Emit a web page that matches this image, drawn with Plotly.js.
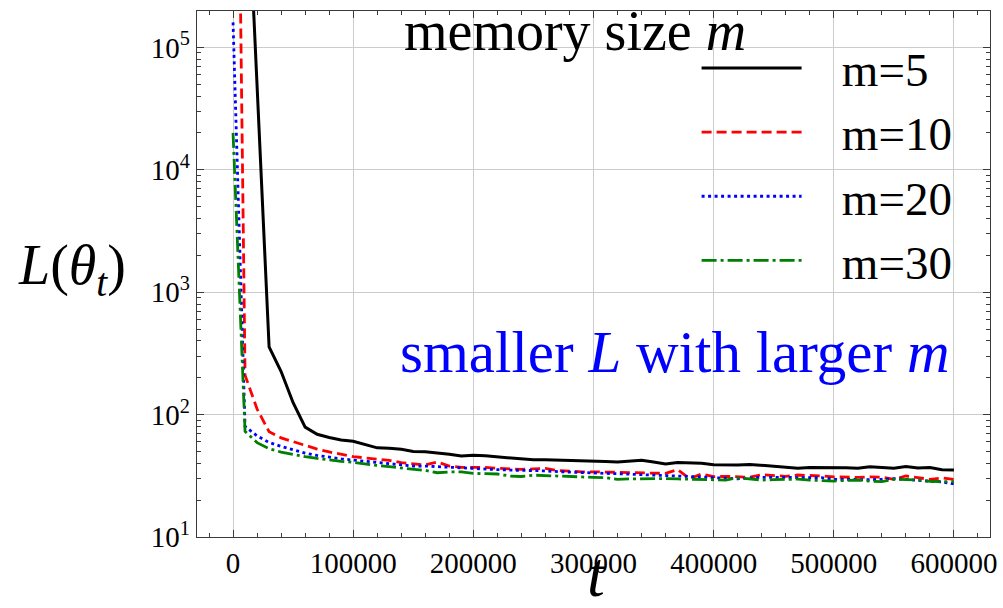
<!DOCTYPE html>
<html>
<head>
<meta charset="utf-8">
<script src="https://cdn.plot.ly/plotly-3.0.1.min.js"></script>
<style>
  html, body { margin: 0; padding: 0; background: #ffffff; }
  #chart { width: 1003px; height: 608px; }
</style>
</head>
<body>
<div id="chart"></div>
<script>
// iteration t
const t = [0, 10000, 20000, 30000, 40000, 50000, 60000, 70000, 80000, 90000,
  100000, 110000, 120000, 130000, 140000, 150000, 160000, 170000, 180000, 190000,
  200000, 210000, 220000, 230000, 240000, 250000, 260000, 270000, 280000, 290000,
  300000, 310000, 320000, 330000, 340000, 350000, 360000, 370000, 380000, 390000,
  400000, 410000, 420000, 430000, 440000, 450000, 460000, 470000, 480000, 490000,
  500000, 510000, 520000, 530000, 540000, 550000, 560000, 570000, 580000, 590000,
  600000];

// loss L(theta_t), memory size m = 5
const lossM5 = [1e12, 6.6e6, 48400, 357, 225, 125, 79, 69, 65, 62,
  60.5, 57, 53.5, 53, 52, 50, 49.7, 48.5, 47.5, 45.8,
  46.5, 46, 45, 44.2, 43.5, 42.7, 42.8, 42.6, 42.2, 42,
  41.8, 41.3, 41, 41.5, 42.3, 41, 39.5, 40.6, 40.5, 40,
  39, 38.7, 38.7, 39.2, 38.5, 38, 37.5, 36.5, 37, 37.1,
  36.9, 36.8, 36.5, 37.5, 37, 36.4, 37.6, 36.6, 37, 35.4,
  35.2];

// m = 10
const lossM10 = [2e10, 210, 111, 72.5, 64.5, 60, 56, 52.3, 49.5, 47.5,
  45.4, 44.3, 43.3, 42.3, 40.5, 39.5, 38.8, 41, 38, 37.1,
  37.1, 37, 36.5, 36, 35.7, 36, 36.3, 34.9, 34.4, 34.1,
  34.1, 33.9, 33.6, 33.3, 33.1, 33.1, 33.1, 35.5, 30, 32.7,
  31.1, 31.3, 31, 30.8, 32.3, 32, 31.3, 32.1, 32, 31.5,
  31, 30.7, 30.7, 31, 30.8, 29.6, 31.5, 30.5, 29.6, 30.4,
  29.6];

// m = 20
const lossM20 = [1.6e5, 80, 67, 59.2, 55, 51.5, 48.5, 46.4, 44.8, 43.5,
  42.5, 41.6, 40.5, 39.7, 38.5, 38, 38, 37.5, 36.9, 36.5,
  36, 35.7, 35.5, 35.2, 35.1, 34.9, 34.7, 34.2, 33.8, 33.5,
  33.2, 33.1, 32.9, 32.7, 32.4, 32.2, 32, 31.5, 31.2, 31,
  30.6, 30.2, 29.9, 30.4, 30.7, 30.7, 30.7, 30.7, 30.7, 30.5,
  29.6, 29.4, 29.2, 29.4, 29.6, 30, 29.5, 29.2, 28.6, 28.2,
  27.1];

// m = 30
const lossM30 = [2e4, 73, 59, 52.7, 49.4, 47.1, 45.3, 43.8, 42.5, 41.5,
  40.7, 39.4, 38.4, 37.5, 36.5, 35.8, 35, 33.5, 34, 34,
  33.1, 32.9, 32.7, 31.5, 31.2, 32, 31.7, 31.2, 30.9, 30.7,
  30.7, 30.5, 29.6, 29.8, 29.9, 30.1, 30, 29.8, 29.7, 29.6,
  29.3, 29.2, 30.4, 29.8, 29.2, 29.4, 29.6, 29.7, 29.2, 28.7,
  28.6, 29, 29.2, 28.6, 28.3, 29.6, 29.5, 29.2, 28.5, 28.3,
  28.3];

const seriesNames = ['m=5', 'm=10', 'm=20', 'm=30'];
const xTickVals = [0, 100000, 200000, 300000, 400000, 500000, 600000];
const xTickText = ['0', '100000', '200000', '300000', '400000', '500000', '600000'];
const yTickVals = [10, 100, 1000, 10000, 100000];
const yTickText = ['10<sup>1</sup>', '10<sup>2</sup>', '10<sup>3</sup>', '10<sup>4</sup>', '10<sup>5</sup>'];
const titleText = 'memory size <i>m</i>';
const noteText = 'smaller <i>L</i> with larger <i>m</i>';
const xTitle = '<i>t</i>';
const yTitle = '<i>L</i>(<i>θ</i><sub><i>t</i></sub>)';

const FONT = 'Liberation Serif, Times New Roman, serif';
const PAD = '\u00a0\u00a0\u00a0';

const styles = [
  {color: '#000000', width: 3, dash: 'solid'},
  {color: '#ff0000', width: 2.8, dash: '10px,5px'},
  {color: '#0000ff', width: 2.8, dash: '3px,3.5px'},
  {color: '#008000', width: 2.8, dash: '15px,4px,3px,4px'}
];
const losses = [lossM5, lossM10, lossM20, lossM30];

const traces = losses.map((y, i) => ({
  type: 'scatter',
  mode: 'lines',
  x: t,
  y: y,
  name: PAD + seriesNames[i],
  legendgroup: 'g' + i,
  line: styles[i],
  hoverinfo: 'x+y+name'
}));

const layout = {
  width: 1003,
  height: 608,
  margin: {l: 197, r: 13, t: 11, b: 71, pad: 0},
  paper_bgcolor: '#ffffff',
  plot_bgcolor: '#ffffff',
  font: {family: FONT, color: '#000000', size: 28},
  showlegend: true,
  legend: {
    x: 0.63, y: 0.962, xanchor: 'left', yanchor: 'top',
    bgcolor: 'rgba(0,0,0,0)',
    font: {family: FONT, size: 47, color: '#000000'},
    itemwidth: 100,
    tracegroupgap: 7,
    traceorder: 'normal'
  },
  xaxis: {
    range: [-30000, 630000],
    tickvals: xTickVals,
    ticktext: xTickText,
    tickfont: {family: FONT, size: 29, color: '#000000'},
    showgrid: true, gridcolor: '#cccccc', gridwidth: 1,
    zeroline: false,
    showline: true, linecolor: '#3a3a3a', linewidth: 1.3, mirror: 'ticks',
    ticks: 'inside', ticklen: 7, tickwidth: 1, tickcolor: '#3a3a3a',
    minor: {ticks: 'inside', dtick: 20000, tick0: 0, ticklen: 4, tickwidth: 1, tickcolor: '#3a3a3a', showgrid: false},
    automargin: false
  },
  yaxis: {
    type: 'log',
    range: [1, 5.297],
    tickvals: yTickVals,
    ticktext: yTickText,
    tickfont: {family: FONT, size: 29, color: '#000000'},
    showgrid: true, gridcolor: '#cccccc', gridwidth: 1,
    zeroline: false,
    showline: true, linecolor: '#3a3a3a', linewidth: 1.3, mirror: 'ticks',
    ticks: 'inside', ticklen: 7, tickwidth: 1, tickcolor: '#3a3a3a',
    minor: {ticks: 'inside', dtick: 'D1', ticklen: 4, tickwidth: 1, tickcolor: '#3a3a3a', showgrid: false},
    automargin: false
  },
  shapes: [
    {
      type: 'rect', xref: 'paper', yref: 'paper',
      x0: 0.252, x1: 0.701, y0: 0.907, y1: 0.998,
      fillcolor: '#ffffff', line: {width: 0}, layer: 'between'
    }
  ],
  annotations: [
    {
      text: titleText, xref: 'paper', yref: 'paper', x: 0.4767, y: 0.962,
      xanchor: 'center', yanchor: 'middle', showarrow: false,
      font: {family: FONT, size: 56, color: '#000000'}
    },
    {
      text: noteText, xref: 'paper', yref: 'paper', x: 0.952, y: 0.352,
      xanchor: 'right', yanchor: 'middle', showarrow: false,
      font: {family: FONT, size: 59, color: '#0000ff'}
    },
    {
      text: yTitle, xref: 'paper', yref: 'paper', x: -0.158, y: 0.5095,
      xanchor: 'center', yanchor: 'middle', showarrow: false,
      font: {family: FONT, size: 56, color: '#000000'}
    },
    {
      text: xTitle, xref: 'paper', yref: 'paper', x: 0.5044, y: -0.0722,
      xanchor: 'center', yanchor: 'middle', showarrow: false,
      font: {family: FONT, size: 64, color: '#000000'}
    }
  ]
};

Plotly.newPlot('chart', traces, layout, {displayModeBar: false, staticPlot: true});
</script>
</body>
</html>
